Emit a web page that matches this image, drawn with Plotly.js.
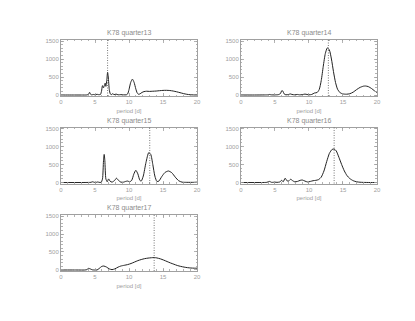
<!DOCTYPE html>
<html>
<head>
<meta charset="utf-8">
<script src="https://cdn.plot.ly/plotly-3.0.1.min.js"></script>
<style>
  html, body { margin: 0; padding: 0; background: #fff; }
  #chart { width: 415px; height: 321px; }
</style>
</head>
<body>
<div id="chart"></div>
<script>
// periodograms per quarter, period [d] vs power

var titles = ["K78 quarter13", "K78 quarter14", "K78 quarter15", "K78 quarter16", "K78 quarter17"];
var peakPeriod = [6.85, 12.85, 13.05, 13.7, 13.7];

var q13x = [0, 1, 2, 3, 3.8, 4.05, 4.2, 4.35, 4.5, 4.8, 5.0, 5.3, 5.5, 5.8, 5.95, 6.1, 6.25, 6.35, 6.5, 6.6, 6.75, 6.85, 6.95, 7.1, 7.25, 7.4, 7.6, 7.8, 8.1, 8.4, 8.8, 9.2, 9.6, 9.8, 10.0, 10.25, 10.5, 10.75, 11.0, 11.2, 11.4, 11.6, 11.9, 12.2, 12.6, 13.0, 13.5, 14.0, 14.5, 15.0, 15.5, 16.0, 16.5, 17.0, 17.5, 18.0, 18.5, 19.0, 19.5, 20];
var q13y = [0, 0, 0, 0, 2, 20, 75, 20, 5, 15, 5, 20, 10, 15, 100, 260, 200, 250, 330, 240, 450, 630, 500, 150, 30, 10, 35, 10, 25, 5, 10, 5, 5, 30, 150, 350, 440, 350, 170, 60, 20, 30, 70, 95, 105, 100, 105, 110, 120, 128, 130, 125, 110, 90, 65, 40, 20, 8, 3, 2];

var q14x = [0, 2, 3.5, 4.0, 4.2, 4.4, 5.0, 5.5, 5.8, 6.0, 6.15, 6.35, 6.6, 7.0, 7.25, 7.5, 7.9, 8.3, 8.6, 9.0, 9.4, 9.7, 10.0, 10.4, 10.8, 11.2, 11.5, 11.8, 12.1, 12.4, 12.7, 13.0, 13.3, 13.6, 13.9, 14.2, 14.6, 15.0, 15.5, 16.0, 16.5, 17.0, 17.5, 18.0, 18.3, 18.7, 19.2, 19.6, 20];
var q14y = [0, 0, 2, 5, 15, 5, 3, 10, 40, 120, 110, 30, 5, 15, 30, 15, 5, 15, 5, 10, 25, 15, 5, 15, 55, 70, 150, 400, 800, 1150, 1310, 1250, 1000, 650, 350, 160, 60, 30, 22, 35, 80, 150, 210, 245, 250, 235, 180, 120, 70];

var q15x = [0, 3, 4.0, 4.4, 4.65, 4.9, 5.2, 5.4, 5.6, 5.9, 6.1, 6.25, 6.35, 6.45, 6.6, 6.8, 7.0, 7.2, 7.5, 7.9, 8.15, 8.45, 8.8, 9.2, 9.5, 9.8, 10.1, 10.4, 10.7, 11.0, 11.3, 11.6, 11.8, 12.1, 12.5, 12.9, 13.2, 13.5, 13.8, 14.1, 14.4, 14.8, 15.3, 15.8, 16.3, 16.8, 17.3, 17.8, 18.5, 19.5, 20];
var q15y = [0, 0, 2, 5, 20, 5, 5, 15, 5, 5, 100, 600, 780, 600, 100, 20, 100, 40, 10, 60, 120, 60, 10, 10, 30, 40, 20, 60, 230, 340, 240, 60, 40, 180, 560, 830, 780, 500, 180, 30, 40, 160, 280, 320, 270, 150, 50, 10, 5, 5, 10];

var q16x = [0, 3, 3.8, 4.2, 4.5, 5.0, 5.3, 5.7, 6.0, 6.2, 6.5, 6.75, 7.0, 7.3, 7.6, 7.9, 8.3, 8.7, 9.0, 9.4, 9.8, 10.2, 10.6, 11.0, 11.4, 11.8, 12.2, 12.6, 13.0, 13.4, 13.7, 14.0, 14.4, 14.8, 15.2, 15.6, 16.0, 16.5, 17.0, 17.5, 18.0, 19, 20];
var q16y = [0, 0, 5, 30, 5, 10, 5, 15, 60, 20, 120, 50, 40, 90, 50, 20, 30, 60, 70, 40, 15, 30, 50, 60, 80, 150, 320, 580, 810, 920, 930, 880, 700, 500, 320, 190, 110, 50, 20, 8, 3, 0, 0];

var q17x = [0, 2, 3.5, 3.8, 4.05, 4.3, 4.6, 4.9, 5.3, 5.6, 6.0, 6.3, 6.7, 7.1, 7.5, 7.9, 8.4, 8.8, 9.3, 9.8, 10.3, 10.8, 11.3, 11.8, 12.3, 12.8, 13.3, 13.7, 14.1, 14.6, 15.1, 15.6, 16.1, 16.6, 17.1, 17.6, 18.1, 18.6, 19.1, 19.6, 20];
var q17y = [0, 0, 0, 10, 45, 30, 5, 0, 0, 40, 100, 110, 80, 30, 10, 30, 80, 110, 130, 150, 180, 220, 260, 290, 315, 330, 340, 345, 335, 310, 275, 235, 195, 160, 125, 100, 80, 65, 55, 50, 50];

var xs = [q13x, q14x, q15x, q16x, q17x];
var ys = [q13y, q14y, q15y, q16y, q17y];

var xTicks = [0, 5, 10, 15, 20];
var yTicks = [0, 500, 1000, 1500];

// panel boxes in paper fractions
var colDom = [[0.147, 0.4747], [0.5807, 0.9084]];
var rowDom = [[0.7009, 0.8754], [0.4283, 0.6028], [0.1558, 0.3302]];

var grey = '#a0a0a0';
var data = [];
var layout = {
  width: 415,
  height: 321,
  margin: {l: 0, r: 0, t: 0, b: 0},
  paper_bgcolor: '#fff',
  plot_bgcolor: '#fff',
  showlegend: false,
  font: {family: 'Liberation Sans, Arial, sans-serif', size: 6, color: grey},
  annotations: [],
  shapes: []
};

for (var i = 0; i < 5; i++) {
  var n = i + 1;
  var xa = 'x' + (n === 1 ? '' : n);
  var ya = 'y' + (n === 1 ? '' : n);

  data.push({
    x: xs[i],
    y: ys[i],
    xaxis: xa,
    yaxis: ya,
    type: 'scatter',
    mode: 'lines',
    line: {color: '#222', width: 1, shape: 'spline', smoothing: 0.6},
    hoverinfo: 'skip'
  });

  var axBase = {
    showline: true,
    linecolor: grey,
    linewidth: 1,
    mirror: 'ticks',
    ticks: 'inside',
    ticklen: 3,
    tickcolor: grey,
    tickwidth: 0.8,
    showgrid: false,
    zeroline: false,
    tickfont: {size: 6, color: grey}
  };

  layout['xaxis' + (n === 1 ? '' : n)] = Object.assign({}, axBase, {
    domain: colDom[i % 2],
    anchor: ya,
    range: [0, 20],
    tickvals: xTicks,
    ticktext: xTicks.map(String),
    minor: {ticks: 'inside', ticklen: 1.5, dtick: 1, tickcolor: grey, showgrid: false},
    title: {text: 'period [d]', font: {size: 6, color: grey}, standoff: 4}
  });

  layout['yaxis' + (n === 1 ? '' : n)] = Object.assign({}, axBase, {
    domain: rowDom[Math.floor(i / 2)],
    anchor: xa,
    range: [-28, 1528],
    tickvals: yTicks,
    ticktext: yTicks.map(String),
    minor: {ticks: 'inside', ticklen: 1.5, dtick: 100, tickcolor: grey, showgrid: false}
  });

  layout.annotations.push({
    text: titles[i],
    xref: xa + ' domain',
    yref: ya + ' domain',
    x: 0.5,
    y: 1,
    yanchor: 'bottom',
    yshift: 1,
    showarrow: false,
    font: {size: 7, color: '#8c8c8c'}
  });

  layout.shapes.push({
    type: 'line',
    xref: xa,
    yref: ya + ' domain',
    x0: peakPeriod[i],
    x1: peakPeriod[i],
    y0: 0,
    y1: 1,
    line: {color: '#555', width: 0.8, dash: '1px,1.5px'}
  });
}

Plotly.newPlot('chart', data, layout, {staticPlot: true, displayModeBar: false});
</script>
</body>
</html>
